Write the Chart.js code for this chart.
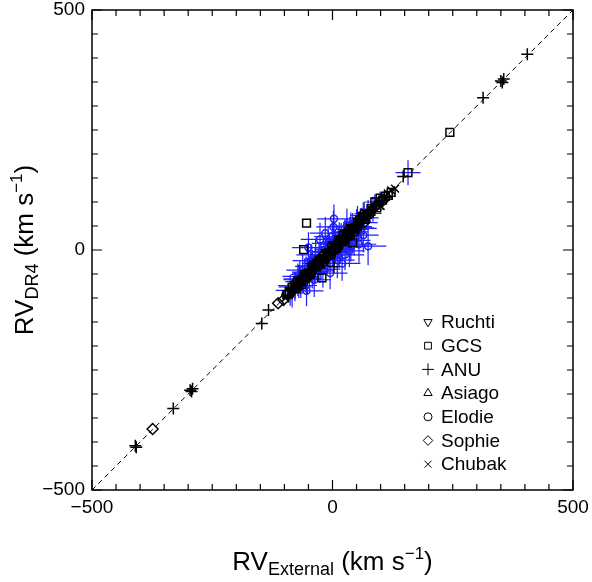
<!DOCTYPE html>
<html>
<head>
<meta charset="utf-8">
<script src="https://cdn.jsdelivr.net/npm/chart.js@4/dist/chart.umd.min.js"></script>
<style>
  html, body { margin: 0; padding: 0; background: #ffffff; }
  #wrap { width: 592px; height: 582px; }
</style>
</head>
<body>
<div id="wrap"><canvas id="rv" width="592" height="582"></canvas></div>
<script>
// Radial velocity comparison: DR4 pipeline vs. external catalogues.
// Each survey: [RV external, RV DR4] pairs (km/s).
const ruchtiPts = [
  [-88,-84],[-78,-74],[-70,-66],[-62,-60],[-55,-51],[-48,-46],[-42,-40],[-36,-33],
  [-30,-28],[-24,-22],[-18,-15],[-12,-10],[-6,-4],[0,2],[6,7],[12,14],[18,18],
  [24,25],[30,31],[36,38],[42,43],[50,49],[58,57],[66,67],[74,76],[84,85],
  [-84,-90],[-66,-74],[-52,-60],[-38,-44],[-26,-34],[-10,-18],[4,-4],[16,8],
  [28,20],[40,34],[54,46],[-72,-62],[-58,-48],[-44,-34],[-28,-18],[-14,-4],
  [2,12],[14,24],[26,36],[38,48],[52,60],[64,72]
];
// [x error, y error] for each Ruchti star
const ruchtiErr = [
  [30,32],[35,28],[28,34],[40,30],[32,38],[36,32],[30,40],[38,34],
  [34,30],[40,36],[32,34],[36,40],[30,32],[38,34],[34,36],[40,32],[32,38],
  [36,34],[30,36],[38,30],[34,34],[32,36],[36,30],[30,32],[28,28],[24,26],
  [22,30],[34,26],[30,32],[36,28],[28,34],[32,30],[38,32],[30,28],
  [34,36],[28,30],[32,26],[30,34],[26,30],[34,28],[30,32],[36,34],
  [28,30],[32,34],[30,28],[34,30],[28,32],[26,28]
];
const gcsPts = [
  [244,245],[157,161],[-54,56],[-60,1],[-22,-58],[42,15],
  [-95,-93],[-72,-70],[-50,-48],[-28,-26],[-8,-6],[12,13],[32,34],[52,50],
  [72,74],[88,100],[99,108],[110,112],[122,120],[-84,-78],[-40,-32],[-2,6],
  [22,30],[62,70],[80,86],[-64,-72],[-18,-24],[44,38],
  [-90,-86],[-76,-80],[-46,-50],[-34,-28],[-4,-10],[8,4],[18,22],[36,30],
  [56,62],[68,64],[92,88],[104,104],[116,114]
];
const gcsErr = [
  [0,0],[26,26],[0,0],[0,0],[0,0],[0,0],
  [0,0],[0,0],[0,0],[0,0],[0,0],[0,0],[0,0],[0,0],
  [0,0],[22,16],[18,14],[0,0],[0,0],[0,0],[0,0],[0,0],
  [0,0],[0,0],[0,0],[0,0],[0,0],[0,0],
  [0,0],[0,0],[0,0],[0,0],[0,0],[0,0],[0,0],[0,0],
  [0,0],[0,0],[0,0],[0,0],[0,0]
];
const anuPts = [
  [-410,-408],[-408,-411],[-331,-330],[-296,-292],[-291,-289],[-293,-295],
  [-147,-153],[-133,-125],[-92,-97],[-80,-82],[-60,-63],[-42,-40],[-22,-24],
  [3,-35],[-2,2],[16,17],[34,35],[52,54],[68,70],[90,92],[112,110],
  [147,153],[313,317],[350,352],[356,356],[353,349],[405,408],
  [-70,-64],[-50,-56],[-30,-24],[-12,-18],[8,14],[26,20],[44,50],[60,56],[80,84],
  [-86,-80],[-56,-60],[-38,-34],[-20,-16],[-6,-8],[10,10],[30,26],[48,46],[74,70],[98,100]
];
const asiagoPts = [
  [61,75],[-40,-36],[10,13],[28,27],[48,52],[-66,-62],[-15,-14],[80,82],
  [-26,-32],[38,44],[-56,-52],[20,16]
];
const elodiePts = [
  [3,65],[-26,22],[74,8],[35,-2],[26,-10],[10,-21],[-54,-85],[-78,-77],
  [64,31],[0,28],[-9,14],[2,48],[-35,-10],[-20,-40],[45,20],[20,-28],
  [-15,35],[55,12],[-45,-22],[-62,-42],[15,2],[38,8],[-5,-48],[-38,-62],
  [-68,-55],[30,50],[60,45],[-50,5]
];
const elodieErr = [
  [35,30],[40,35],[38,40],[32,34],[40,32],[36,38],[35,32],[34,30],
  [32,36],[38,32],[34,36],[36,34],[40,34],[36,38],[34,32],[38,36],
  [32,34],[36,38],[38,34],[34,36],[32,30],[34,32],[36,34],[34,36],
  [36,32],[34,36],[32,34],[34,32]
];
const sophiePts = [
  [-374,-373],[-113,-111],[-102,-104],[-92,-90],[-82,-84],[-68,-70],[-58,-55],
  [-44,-45],[-32,-30],[-14,-16],[4,2],[22,24],[40,39],[58,60],[76,74],[92,94],[104,102],
  [-76,-68],[-48,-54],[-20,-12],[10,4],[32,40],[66,58]
];
const chubakPts = [
  [130,128],[122,124],[115,118],[106,108],[96,97],[86,88],[70,68],[54,55],
  [38,36],[20,21],[2,0],[-16,-18],[-34,-35],[-52,-53],[-70,-72],[-88,-88],[-98,-100],
  [-60,-54],[-24,-30],[12,18],[48,42],[78,76],[100,92]
];

const surveyNames = ['Ruchti', 'GCS', 'ANU', 'Asiago', 'Elodie', 'Sophie', 'Chubak'];
const axisRange = [-500, 500];
const tickValues = [-500, 0, 500];
const minorStep = 50;

const FONT = "'Liberation Sans', Arial, Helvetica, sans-serif";
const BLUE = '#1e1eff';

const toXY = pts => pts.map(p => ({ x: p[0], y: p[1] }));

// marker styles per survey (legend + data)
const markerStyle = {
  Ruchti: { pointStyle: 'triangle', rotation: 180, radius: 5 },
  GCS:    { pointStyle: 'rect', rotation: 0, radius: 5.5 },
  ANU:    { pointStyle: 'cross', rotation: 0, radius: 6 },
  Asiago: { pointStyle: 'triangle', rotation: 0, radius: 5 },
  Elodie: { pointStyle: 'circle', rotation: 0, radius: 3.5 },
  Sophie: { pointStyle: 'rectRot', rotation: 0, radius: 5.5 },
  Chubak: { pointStyle: 'crossRot', rotation: 0, radius: 5.5 }
};

function scatterSet(name, pts, errs, color, order) {
  const m = markerStyle[name];
  return {
    label: name,
    type: 'scatter',
    data: toXY(pts),
    errors: errs || null,
    pointStyle: m.pointStyle,
    rotation: m.rotation,
    pointRadius: m.radius,
    pointHoverRadius: m.radius,
    borderColor: color,
    backgroundColor: 'rgba(255,255,255,0)',
    pointBorderWidth: 1.5,
    order: order
  };
}

// blue error bars, drawn beneath every marker
const errorBars = {
  id: 'errorBars',
  beforeDatasetsDraw(chart) {
    const { ctx, chartArea: a, scales: { x, y } } = chart;
    ctx.save();
    ctx.beginPath();
    ctx.rect(a.left, a.top, a.right - a.left, a.bottom - a.top);
    ctx.clip();
    ctx.strokeStyle = BLUE;
    ctx.lineWidth = 1.2;
    chart.data.datasets.forEach(ds => {
      if (!ds.errors) return;
      ds.data.forEach((p, i) => {
        const e = ds.errors[i];
        if (!e || (!e[0] && !e[1])) return;
        const px = x.getPixelForValue(p.x), py = y.getPixelForValue(p.y);
        ctx.beginPath();
        ctx.moveTo(x.getPixelForValue(p.x - e[0]), py);
        ctx.lineTo(x.getPixelForValue(p.x + e[0]), py);
        ctx.moveTo(px, y.getPixelForValue(p.y - e[1]));
        ctx.lineTo(px, y.getPixelForValue(p.y + e[1]));
        ctx.stroke();
      });
    });
    ctx.restore();
  }
};

// boxed frame with inward ticks on all four sides
const frameTicks = {
  id: 'frameTicks',
  afterDatasetsDraw(chart) {
    const { ctx, chartArea: a, scales: { x, y } } = chart;
    ctx.save();
    ctx.strokeStyle = '#000';
    ctx.lineWidth = 1.5;
    ctx.strokeRect(a.left, a.top, a.right - a.left, a.bottom - a.top);
    ctx.lineWidth = 1.2;
    ctx.beginPath();
    for (let v = axisRange[0]; v <= axisRange[1]; v += minorStep) {
      const major = tickValues.includes(v);
      const len = major ? 10 : 6;
      const px = x.getPixelForValue(v), py = y.getPixelForValue(v);
      ctx.moveTo(px, a.bottom); ctx.lineTo(px, a.bottom - len);
      ctx.moveTo(px, a.top); ctx.lineTo(px, a.top + len);
      ctx.moveTo(a.left, py); ctx.lineTo(a.left + len, py);
      ctx.moveTo(a.right, py); ctx.lineTo(a.right - len, py);
    }
    ctx.stroke();
    ctx.restore();
  }
};

// text runs with sub/superscripts
function drawRuns(ctx, runs, cx, baseY) {
  let total = 0;
  runs.forEach(r => { ctx.font = r.size + 'px ' + FONT; r.w = ctx.measureText(r.t).width; total += r.w; });
  let xPos = cx - total / 2;
  ctx.textAlign = 'left';
  ctx.textBaseline = 'alphabetic';
  runs.forEach(r => {
    ctx.font = r.size + 'px ' + FONT;
    ctx.fillText(r.t, xPos, baseY + (r.dy || 0));
    xPos += r.w;
  });
}

const axisTitles = {
  id: 'axisTitles',
  afterDraw(chart) {
    const { ctx, chartArea: a } = chart;
    ctx.save();
    ctx.fillStyle = '#000';
    const cx = (a.left + a.right) / 2;
    drawRuns(ctx, [
      { t: 'RV', size: 26 },
      { t: 'External', size: 18, dy: 5 },
      { t: ' (km s', size: 26 },
      { t: '\u22121', size: 17, dy: -11 },
      { t: ')', size: 26 }
    ], cx, 570);
    ctx.translate(33, (a.top + a.bottom) / 2);
    ctx.rotate(-Math.PI / 2);
    drawRuns(ctx, [
      { t: 'RV', size: 26 },
      { t: 'DR4', size: 18, dy: 5 },
      { t: ' (km s', size: 26 },
      { t: '\u22121', size: 17, dy: -11 },
      { t: ')', size: 26 }
    ], 0, 0);
    ctx.restore();
  }
};

// legend inside the lower-right of the plot
const symbolLegend = {
  id: 'symbolLegend',
  afterDraw(chart) {
    const { ctx } = chart;
    ctx.save();
    ctx.font = '19px ' + FONT;
    ctx.textAlign = 'left';
    ctx.textBaseline = 'middle';
    surveyNames.forEach((name, i) => {
      const m = markerStyle[name];
      const yc = 322 + i * 23.7;
      ctx.strokeStyle = '#000';
      ctx.fillStyle = (m.pointStyle === 'cross' || m.pointStyle === 'crossRot') ? '#000' : '#fff';
      ctx.lineWidth = 1;
      const r = name === 'Elodie' ? 4 : (name === 'ANU' ? 6 : (name === 'Chubak' ? 5 : 4.8));
      Chart.helpers.drawPoint(ctx, { pointStyle: m.pointStyle, rotation: m.rotation, radius: r, borderWidth: 1 }, 428, yc);
      ctx.fillStyle = '#000';
      ctx.fillText(name, 441, yc + 1);
    });
    ctx.restore();
  }
};

const fmt = v => (v < 0 ? '\u2212' + Math.abs(v) : String(v));

new Chart(document.getElementById('rv'), {
  type: 'scatter',
  data: {
    datasets: [
      scatterSet('Chubak', chubakPts, null, '#000', 1),
      scatterSet('ANU', anuPts, null, '#000', 2),
      scatterSet('Sophie', sophiePts, null, '#000', 3),
      scatterSet('GCS', gcsPts, gcsErr, '#000', 4),
      scatterSet('Asiago', asiagoPts, null, '#000', 5),
      scatterSet('Ruchti', ruchtiPts, ruchtiErr, '#000', 6),
      scatterSet('Elodie', elodiePts, elodieErr, BLUE, 7),
      {
        label: 'one-to-one',
        type: 'line',
        data: [{ x: axisRange[0], y: axisRange[0] }, { x: axisRange[1], y: axisRange[1] }],
        borderColor: '#000',
        borderWidth: 1,
        borderDash: [5, 4],
        pointRadius: 0,
        fill: false,
        order: 10
      }
    ]
  },
  options: {
    responsive: false,
    animation: false,
    devicePixelRatio: 1,
    layout: { padding: { top: 10, right: 19, left: 0, bottom: 0 } },
    plugins: { legend: { display: false }, tooltip: { enabled: false } },
    scales: {
      x: {
        type: 'linear', min: axisRange[0], max: axisRange[1],
        afterBuildTicks: s => { s.ticks = tickValues.map(v => ({ value: v })); },
        afterFit: s => { s.height = 92; s.paddingLeft = 0; s.paddingRight = 0; },
        grid: { display: false, drawTicks: false },
        border: { display: false },
        ticks: {
          padding: 8, maxRotation: 0, autoSkip: false, color: '#000',
          font: { family: FONT, size: 19, lineHeight: 1 },
          callback: v => fmt(v)
        }
      },
      y: {
        type: 'linear', min: axisRange[0], max: axisRange[1],
        afterBuildTicks: s => { s.ticks = tickValues.map(v => ({ value: v })); },
        afterFit: s => { s.width = 92; s.paddingTop = 0; s.paddingBottom = 0; },
        grid: { display: false, drawTicks: false },
        border: { display: false },
        ticks: {
          padding: 7, autoSkip: false, color: '#000',
          font: { family: FONT, size: 19, lineHeight: 1 },
          callback: v => fmt(v)
        }
      }
    }
  },
  plugins: [errorBars, frameTicks, axisTitles, symbolLegend]
});
</script>
</body>
</html>
